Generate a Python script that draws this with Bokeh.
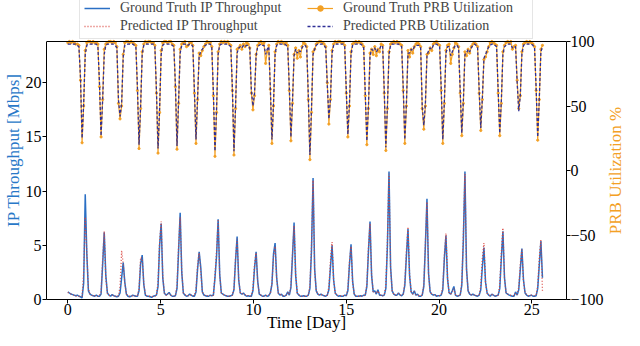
import math
import numpy as np
from bokeh.plotting import figure
from bokeh.layouts import row
from bokeh.models import (Range1d, LinearAxis, FixedTicker, Legend, LegendItem,
                          CustomJSTickFormatter, Span, Label)
from bokeh.embed import file_html
from bokeh.resources import INLINE

# ---------------- data (12 samples per daily cycle) ----------------
STEP = 1.023 / 12  # days between samples

gt_ip_rows = [
    [0.7, 0.6, 0.5, 0.45, 0.4, 0.35, 0.4, 0.3, 0.25, 0.15, 1.5, 9.7],
    [4.2, 0.8, 0.5, 0.4, 0.35, 0.3, 0.4, 0.3, 0.3, 0.5, 3.2, 6.2],
    [2.2, 0.6, 0.4, 0.3, 0.45, 0.35, 0.3, 0.25, 0.3, 0.6, 2.0, 3.4],
    [1.6, 0.5, 0.3, 0.25, 0.3, 0.4, 0.35, 0.3, 0.3, 0.8, 3.3, 4.1],
    [1.4, 0.4, 0.3, 0.3, 0.25, 0.2, 0.3, 0.35, 0.4, 1.2, 5.0, 7.0],
    [2.0, 0.6, 0.4, 0.5, 0.65, 0.4, 0.3, 0.3, 0.35, 1.0, 4.5, 8.0],
    [2.5, 0.6, 0.4, 0.3, 0.35, 0.5, 0.4, 0.3, 0.3, 0.7, 2.8, 4.4],
    [3.0, 0.7, 0.4, 0.35, 0.3, 0.3, 0.4, 0.35, 0.4, 2.0, 4.0, 7.4],
    [2.3, 0.6, 0.5, 0.4, 0.35, 0.3, 0.3, 0.35, 0.4, 0.9, 3.6, 5.8],
    [1.8, 0.6, 0.5, 0.6, 0.4, 0.3, 0.35, 0.3, 0.3, 0.8, 2.9, 4.4],
    [1.7, 0.5, 0.4, 0.3, 0.3, 0.4, 0.3, 0.35, 0.6, 1.4, 4.2, 5.2],
    [2.0, 0.6, 0.4, 0.5, 0.3, 0.3, 0.4, 0.7, 0.4, 1.1, 4.0, 7.1],
    [2.2, 0.6, 0.4, 0.3, 0.3, 0.35, 0.3, 0.3, 0.4, 1.0, 4.5, 11.2],
    [2.8, 0.8, 0.5, 0.4, 0.5, 0.4, 0.35, 0.3, 0.4, 0.9, 3.0, 5.0],
    [1.8, 0.6, 0.4, 0.3, 0.35, 0.3, 0.3, 0.4, 0.35, 0.8, 3.2, 5.1],
    [1.7, 0.5, 0.3, 0.3, 0.3, 0.35, 0.3, 0.4, 0.4, 1.2, 4.4, 7.2],
    [2.2, 0.7, 0.8, 0.5, 0.9, 0.4, 0.4, 0.35, 0.4, 1.0, 5.0, 11.8],
    [3.0, 0.8, 0.5, 0.4, 0.4, 0.6, 0.4, 0.35, 0.5, 1.3, 4.0, 6.5],
    [2.2, 0.7, 0.5, 0.8, 0.4, 0.5, 0.3, 0.3, 0.4, 1.2, 5.0, 9.3],
    [2.4, 0.7, 0.5, 0.4, 0.45, 0.3, 0.35, 0.35, 0.4, 0.9, 3.8, 5.9],
    [1.9, 0.6, 0.5, 0.8, 1.2, 0.4, 0.3, 0.35, 0.4, 1.3, 5.5, 11.8],
    [2.8, 0.8, 0.5, 0.4, 0.5, 0.4, 0.35, 0.3, 0.4, 0.9, 3.0, 4.8],
    [1.6, 0.6, 0.4, 0.3, 0.5, 0.4, 0.3, 0.35, 0.4, 1.0, 3.8, 6.3],
    [2.0, 0.6, 0.5, 0.4, 0.35, 0.3, 0.3, 0.7, 0.4, 0.9, 2.8, 4.7],
    [1.8, 0.6, 0.4, 0.3, 0.35, 0.4, 0.3, 0.3, 0.35, 1.0, 3.2, 5.4],
]
gt_ip_last = 2.0

pred_ip_rows = [
    [0.65, 0.55, 0.5, 0.4, 0.4, 0.3, 0.35, 0.3, 0.3, 0.3, 2.5, 7.6],
    [4.3, 1.0, 0.5, 0.4, 0.3, 0.35, 0.35, 0.3, 0.35, 0.7, 3.8, 6.3],
    [2.0, 0.6, 0.4, 0.35, 0.4, 0.3, 0.3, 0.3, 0.35, 1.2, 4.5, 3.3],
    [1.5, 0.5, 0.35, 0.3, 0.3, 0.35, 0.35, 0.3, 0.35, 1.0, 3.9, 3.8],
    [1.5, 0.5, 0.35, 0.3, 0.3, 0.25, 0.3, 0.3, 0.4, 1.5, 5.2, 7.2],
    [2.2, 0.6, 0.4, 0.45, 0.55, 0.4, 0.35, 0.3, 0.35, 1.3, 5.0, 7.6],
    [2.6, 0.6, 0.45, 0.35, 0.35, 0.45, 0.4, 0.35, 0.35, 0.9, 3.2, 4.3],
    [2.6, 0.7, 0.45, 0.35, 0.35, 0.3, 0.35, 0.35, 0.4, 2.2, 4.5, 7.4],
    [2.2, 0.6, 0.5, 0.4, 0.35, 0.3, 0.3, 0.35, 0.4, 1.0, 3.9, 5.6],
    [1.9, 0.6, 0.5, 0.55, 0.45, 0.35, 0.35, 0.3, 0.35, 1.0, 3.2, 4.3],
    [1.6, 0.5, 0.4, 0.35, 0.3, 0.35, 0.35, 0.4, 0.55, 1.5, 4.0, 4.9],
    [1.9, 0.6, 0.45, 0.45, 0.35, 0.3, 0.4, 0.6, 0.45, 1.3, 4.3, 6.8],
    [2.3, 0.6, 0.45, 0.35, 0.3, 0.3, 0.3, 0.35, 0.4, 1.3, 5.0, 11.0],
    [2.6, 0.8, 0.5, 0.45, 0.45, 0.4, 0.35, 0.35, 0.4, 1.2, 3.6, 5.3],
    [1.7, 0.6, 0.45, 0.35, 0.35, 0.3, 0.35, 0.35, 0.4, 1.0, 3.5, 4.9],
    [1.6, 0.5, 0.35, 0.3, 0.3, 0.35, 0.3, 0.35, 0.4, 1.4, 4.8, 7.0],
    [2.3, 0.7, 0.7, 0.55, 0.8, 0.45, 0.4, 0.35, 0.4, 1.3, 5.4, 11.6],
    [2.8, 0.8, 0.5, 0.4, 0.45, 0.55, 0.4, 0.4, 0.5, 1.6, 4.6, 6.7],
    [2.3, 0.7, 0.5, 0.7, 0.45, 0.45, 0.35, 0.35, 0.4, 1.4, 5.3, 9.0],
    [2.3, 0.7, 0.5, 0.45, 0.4, 0.35, 0.35, 0.35, 0.4, 1.2, 4.2, 6.1],
    [2.0, 0.6, 0.5, 0.7, 1.0, 0.45, 0.35, 0.35, 0.4, 1.6, 6.0, 11.6],
    [2.7, 0.8, 0.5, 0.45, 0.45, 0.4, 0.35, 0.35, 0.4, 1.2, 3.8, 5.2],
    [1.6, 0.6, 0.45, 0.35, 0.45, 0.4, 0.35, 0.35, 0.4, 1.3, 4.3, 6.6],
    [2.0, 0.6, 0.5, 0.4, 0.4, 0.35, 0.35, 0.6, 0.45, 1.1, 3.3, 4.6],
    [1.7, 0.6, 0.45, 0.35, 0.35, 0.4, 0.35, 0.35, 0.4, 1.3, 3.8, 5.5],
]
pred_ip_last = 0.8

gt_prb_rows = [
    [99, 100, 99, 100, 99, 98, 98, 97, 70, 21.5, 50, 93],
    [99, 100, 100, 99, 100, 99, 99, 98, 65, 26, 55, 94],
    [98, 99, 100, 100, 99, 100, 99, 96, 52, 40, 50, 90],
    [99, 100, 100, 99, 100, 99, 98, 97, 62, 17, 48, 92],
    [98, 100, 99, 100, 100, 99, 99, 97, 60, 13.5, 45, 93],
    [99, 100, 100, 99, 100, 100, 98, 97, 65, 16.5, 52, 94],
    [98, 99, 100, 96, 97, 99, 99, 97, 60, 21, 55, 91],
    [89, 93, 96, 98, 100, 99, 99, 96, 58, 11, 45, 92],
    [98, 100, 99, 100, 99, 100, 98, 97, 62, 12, 48, 94],
    [95, 97, 94, 98, 96, 99, 98, 95, 60, 47, 58, 90],
    [97, 99, 100, 98, 99, 83, 92, 97, 63, 21, 50, 92],
    [98, 100, 99, 100, 99, 98, 99, 97, 62, 23, 52, 90],
    [95, 87, 93, 88, 96, 99, 98, 96, 55, 8.4, 45, 92],
    [94, 98, 99, 100, 100, 99, 98, 96, 68, 36, 55, 93],
    [98, 100, 99, 100, 100, 99, 99, 97, 60, 26, 50, 92],
    [98, 99, 100, 99, 100, 99, 98, 96, 58, 20, 48, 91],
    [94, 90, 96, 89, 94, 92, 98, 97, 60, 15.5, 48, 92],
    [98, 99, 100, 99, 100, 99, 98, 97, 62, 21, 50, 93],
    [88, 94, 91, 96, 98, 99, 98, 96, 48, 32, 50, 90],
    [91, 95, 93, 98, 99, 100, 98, 97, 62, 21, 52, 93],
    [97, 98, 83, 90, 95, 99, 98, 96, 60, 27, 52, 92],
    [89, 94, 91, 96, 98, 99, 98, 96, 60, 31, 55, 86],
    [88, 92, 96, 99, 100, 99, 98, 97, 60, 27, 52, 92],
    [97, 99, 100, 99, 100, 94, 96, 97, 70, 48, 58, 92],
    [98, 99, 100, 99, 100, 99, 98, 96, 62, 23.5, 55, 94],
]
gt_prb_last = 97

pred_prb_rows = [
    [98, 98, 98, 98, 98, 98, 97, 96, 72, 25, 52, 90],
    [97, 98, 98, 98, 98, 98, 98, 96, 68, 27, 55, 90],
    [97, 98, 98, 98, 98, 98, 97, 95, 55, 42, 52, 88],
    [97, 98, 98, 98, 98, 98, 97, 96, 64, 20, 50, 90],
    [97, 98, 98, 98, 98, 98, 98, 96, 62, 17, 48, 90],
    [97, 98, 98, 98, 98, 98, 97, 96, 66, 19, 54, 91],
    [97, 98, 98, 97, 97, 98, 98, 96, 62, 24, 56, 89],
    [92, 94, 96, 97, 98, 98, 98, 95, 60, 15, 48, 90],
    [97, 98, 98, 98, 98, 98, 97, 96, 64, 15, 50, 91],
    [95, 96, 95, 97, 96, 97, 97, 95, 62, 50, 60, 89],
    [96, 97, 98, 97, 97, 90, 94, 96, 64, 24, 52, 90],
    [97, 98, 98, 98, 98, 98, 97, 96, 64, 26, 54, 89],
    [94, 91, 93, 92, 95, 97, 97, 95, 58, 12, 48, 90],
    [94, 97, 98, 98, 98, 98, 97, 95, 66, 40, 56, 91],
    [97, 98, 98, 98, 98, 98, 98, 96, 62, 28, 52, 90],
    [97, 98, 98, 98, 98, 98, 97, 95, 60, 23, 50, 89],
    [94, 93, 95, 92, 94, 94, 97, 96, 62, 18, 50, 90],
    [97, 98, 98, 98, 98, 98, 97, 96, 64, 24, 52, 91],
    [91, 94, 93, 96, 97, 97, 97, 95, 50, 35, 52, 89],
    [93, 95, 94, 97, 98, 98, 97, 96, 64, 24, 54, 91],
    [96, 96, 89, 92, 95, 97, 97, 95, 62, 29, 54, 90],
    [91, 94, 92, 95, 97, 98, 97, 95, 62, 33, 56, 87],
    [90, 93, 96, 97, 98, 98, 97, 96, 62, 29, 54, 90],
    [96, 97, 98, 98, 98, 95, 96, 96, 68, 46, 58, 90],
    [97, 98, 98, 98, 98, 98, 97, 95, 64, 26, 56, 92],
]
pred_prb_last = 96

x_ticks = [0, 5, 10, 15, 20, 25]
y_ticks_ip = [0, 5, 10, 15, 20]
y_ticks_prb = [-100, -50, 0, 50, 100]
IP_MAX = 23.8          # top of the throughput axis
PRB_MIN, PRB_MAX = -100, 100


def flat(rows, last):
    return [v for r in rows for v in r] + [last]


gt_ip = flat(gt_ip_rows, gt_ip_last)
pred_ip = flat(pred_ip_rows, pred_ip_last)
gt_prb = flat(gt_prb_rows, gt_prb_last)
pred_prb = flat(pred_prb_rows, pred_prb_last)
t = np.arange(len(gt_ip)) * STEP

# ---------------- styling ----------------
FONT = "Liberation Serif"
C_GT_IP = "#2a6fc4"
C_PRED_IP = "#d9403a"
C_GT_PRB = "#f3a024"
C_PRED_PRB = "#2f2f96"

GT_IP_STYLE = dict(line_color=C_GT_IP, line_width=1.5)
PRED_IP_STYLE = dict(line_color=C_PRED_IP, line_width=1.3, line_dash="1 2", line_alpha=0.9)
GT_PRB_STYLE = dict(line_color=C_GT_PRB, line_width=1.2)
GT_PRB_MARK = dict(marker="circle", size=2.2, fill_color=C_GT_PRB, line_color=C_GT_PRB)
PRED_PRB_STYLE = dict(line_color=C_PRED_PRB, line_width=1.3, line_dash="3 2")

# The frame also holds the legend strip above the data area.
H_TOTAL, H_BOTTOM_EST, LEGEND_STRIP = 336, 37, 41
frac = LEGEND_STRIP / (H_TOTAL - H_BOTTOM_EST)
ip_top = IP_MAX / (1 - frac)
prb_top = PRB_MIN + (PRB_MAX - PRB_MIN) / (1 - frac)

W_LABEL = 18
p = figure(width=624 - W_LABEL, height=H_TOTAL, output_backend="svg", toolbar_location=None,
           x_range=Range1d(-1.15, 26.87), y_range=Range1d(0, ip_top))
p.extra_y_ranges = {"prb": Range1d(PRB_MIN, prb_top)}
p.min_border_left = 0
p.min_border_right = 0
p.min_border_top = 0
p.min_border_bottom = 0
p.background_fill_color = "white"
p.border_fill_color = "white"
p.outline_line_color = None
p.xgrid.visible = False
p.ygrid.visible = False

r1 = p.line(t, gt_ip, **GT_IP_STYLE)
r2 = p.line(t, pred_ip, **PRED_IP_STYLE)
r3 = p.line(t, gt_prb, y_range_name="prb", **GT_PRB_STYLE)
r3m = p.scatter(t, gt_prb, y_range_name="prb", **GT_PRB_MARK)
r4 = p.line(t, pred_prb, y_range_name="prb", **PRED_PRB_STYLE)

# top spine of the data area
p.add_layout(Span(location=IP_MAX, dimension="width", line_color="black", line_width=1))

right = LinearAxis(y_range_name="prb")
p.add_layout(right, "right")

for ax in [p.xaxis[0], p.yaxis[0], right]:
    ax.axis_line_color = "black"
    ax.major_tick_line_color = "black"
    ax.minor_tick_line_color = None
    ax.major_tick_in = 0
    ax.major_tick_out = 4
    ax.major_label_text_font = FONT
    ax.major_label_text_font_size = "16px"
    ax.major_label_text_color = "black"
    ax.major_label_standoff = 1
    ax.axis_label_text_font = FONT
    ax.axis_label_text_font_size = "17px"
    ax.axis_label_text_font_style = "normal"
    ax.axis_label_standoff = 0

p.xaxis[0].ticker = FixedTicker(ticks=x_ticks)
p.xaxis[0].axis_label = "Time [Day]"
p.xaxis[0].axis_label_text_color = "black"
p.xaxis[0].major_label_standoff = 0
p.xaxis[0].axis_label_standoff = -5
p.yaxis[0].ticker = FixedTicker(ticks=y_ticks_ip)
p.yaxis[0].bounds = (0, IP_MAX)
p.yaxis[0].axis_label = "IP Throughput [Mbps]"
p.yaxis[0].axis_label_text_color = "#2878c8"
right.ticker = FixedTicker(ticks=y_ticks_prb)
right.bounds = (PRB_MIN, PRB_MAX)
right.major_label_standoff = 0
right.formatter = CustomJSTickFormatter(
    code="return tick < 0 ? '\\u2212' + Math.abs(tick) : String(tick);")

legend = Legend(items=[
    LegendItem(label="Ground Truth IP Throughput", renderers=[r1]),
    LegendItem(label="Predicted IP Throughput", renderers=[r2]),
    LegendItem(label="Ground Truth PRB Utilization", renderers=[r3, r3m]),
    LegendItem(label="Predicted PRB Utilization", renderers=[r4]),
], ncols=2, location="top")
legend.label_text_font = FONT
legend.label_text_font_size = "14px"
legend.glyph_width = 26
legend.glyph_height = 14
legend.label_height = 16
legend.label_width = 185
legend.label_standoff = 10
legend.spacing = 2
legend.padding = 4
legend.margin = -5
legend.border_line_color = "#cccccc"
legend.border_line_width = 1
legend.background_fill_alpha = 1
p.add_layout(legend, "center")

# ---------------- right-hand axis title (reads bottom to top) ----------------
rf = figure(width=W_LABEL, height=H_TOTAL, output_backend="svg", toolbar_location=None,
            x_axis_location=None, y_axis_location=None,
            x_range=Range1d(0, 1), y_range=Range1d(PRB_MIN, prb_top))
rf.min_border_left = 0
rf.min_border_right = 0
rf.min_border_top = 0
rf.min_border_bottom = H_BOTTOM_EST
rf.outline_line_color = None
rf.xgrid.visible = False
rf.ygrid.visible = False
rf.add_layout(Label(x=0.5, y=0, text="PRB Utilization %", angle=math.pi / 2,
                    text_align="center", text_baseline="middle",
                    text_font=FONT, text_font_size="17px", text_color=C_GT_PRB))

layout = row(p, rf, spacing=0)
open("out.html", "w").write(file_html(layout, INLINE))
